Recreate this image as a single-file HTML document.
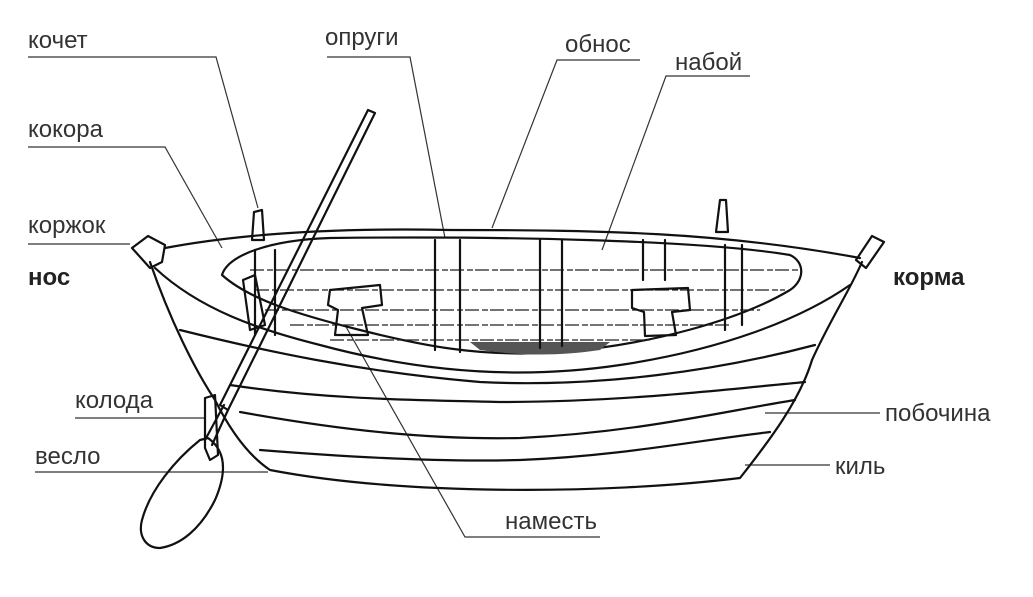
<!DOCTYPE html>
<html><head><meta charset="utf-8"><style>
html,body{margin:0;padding:0;background:#fff;}
svg{display:block}
text{font-family:"Liberation Sans",sans-serif;font-size:24px;fill:#333;}
.b{font-weight:bold;fill:#222}
.l{stroke:#333;stroke-width:1.2;fill:none}
.k{stroke:#111;fill:none;stroke-width:2.2;stroke-linecap:round;stroke-linejoin:round}
.t{stroke:#222;fill:none;stroke-width:1.2;stroke-dasharray:14 3 6 2}
</style></head><body>
<svg width="1033" height="597" viewBox="0 0 1033 597" xmlns="http://www.w3.org/2000/svg">
<text x="28" y="48">кочет</text>
<text x="28" y="137">кокора</text>
<text x="28" y="233">коржок</text>
<text x="28" y="285" class="b">нос</text>
<text x="325" y="45">опруги</text>
<text x="565" y="52">обнос</text>
<text x="675" y="70">набой</text>
<text x="893" y="285" class="b">корма</text>
<text x="75" y="408">колода</text>
<text x="35" y="464">весло</text>
<text x="885" y="421">побочина</text>
<text x="835" y="474">киль</text>
<text x="505" y="529">наместь</text>
<path class="l" d="M28 57H216L258 208"/>
<path class="l" d="M28 147H165L222 248"/>
<path class="l" d="M28 244H130"/>
<path class="l" d="M327 57H410L445 238"/>
<path class="l" d="M640 60H557L492 228"/>
<path class="l" d="M750 76H666L602 250"/>
<path class="l" d="M75 418H205"/>
<path class="l" d="M35 472H268"/>
<path class="l" d="M765 413H880"/>
<path class="l" d="M745 465H830"/>
<path class="l" d="M600 537H465L345 325"/>
<path class="k" d="M150 262C170 320 195 370 215 400C235 440 255 460 270 470C400 495 600 495 740 478C770 440 800 400 812 360C830 320 850 290 862 262"/>
<path class="k" d="M165 248C250 232 350 228 450 230C600 230 720 232 860 258"/>
<path class="k" d="M222 275C228 255 270 240 330 238C500 236 700 240 790 255C805 262 805 280 790 290C740 320 650 345 560 352C480 358 420 345 360 330C300 315 250 300 222 275Z"/>
<path class="k" d="M155 268C200 310 260 330 320 345C420 372 520 380 620 365C720 350 800 320 850 285"/>
<path class="k" d="M180 330C260 350 360 372 480 382C600 388 720 370 815 345"/>
<path class="k" d="M230 385C330 400 420 400 500 402C620 402 720 390 805 382"/>
<path class="k" d="M240 412C340 430 430 440 520 438C640 432 720 412 795 400"/>
<path class="k" d="M260 450C360 458 450 462 520 460C620 456 700 440 770 432"/>
<path class="t" d="M250 270H800M255 290H785M265 310H760M290 325H730M330 340H650"/>
<path d="M480 350C520 356 560 356 600 350L610 342L470 342Z" fill="#555"/>
<g class="k" stroke-width="1.8">
<path d="M255 250V335M275 250V335"/>
<path d="M435 240V350M460 240V352"/>
<path d="M540 240V348M562 240V346"/>
<path d="M643 240V280M665 240V280"/>
<path d="M725 245V330M742 245V325"/>
<path d="M330 290L380 285L382 305L362 308L368 335L335 335L338 310L328 305Z"/>
<path d="M632 290L688 288L690 310L672 312L676 335L645 336L644 312L632 308Z"/>
<path d="M243 280L255 275L265 325L250 330Z"/>
</g>
<path class="k" d="M252 240L254 212L262 210L264 240Z" fill="#fff"/>
<path class="k" d="M716 232L720 200L726 200L728 232Z" fill="#fff"/>
<path class="k" d="M132 248L148 236L165 245L162 262L150 268Z" fill="#fff"/>
<path class="k" d="M856 260L872 236L884 242L866 268Z" fill="#fff"/>
<path class="k" d="M205 398L215 395L218 455L210 460L205 448Z" fill="#fff"/>
<path class="k" d="M368 110L375 113L228 410L220 405Z" fill="#fff"/>
<path class="k" d="M224 405L205 440M228 410L212 445"/>
<path class="k" d="M208 438C225 450 228 470 215 500C200 530 180 545 160 548C145 548 138 535 142 520C150 490 175 460 200 440Z" fill="#fff"/>
</svg>
</body></html>
